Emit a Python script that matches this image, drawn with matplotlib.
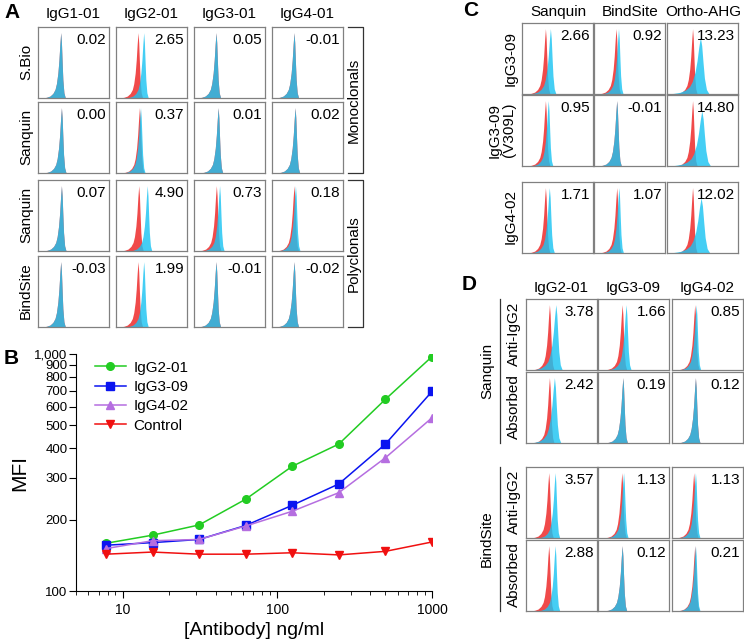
import numpy as np
import matplotlib.pyplot as plt
from matplotlib.ticker import FixedLocator, FixedFormatter, LogLocator, NullFormatter, NullLocator

plt.rcParams['font.family'] = ['Liberation Sans', 'DejaVu Sans']

W, H = 744, 642

# ---- panel B data (dose response) ----
conc = [7.8125, 15.625, 31.25, 62.5, 125, 250, 500, 1000]
mfi_igg2 = [159, 172, 190, 244, 336, 417, 644, 975]
mfi_igg3 = [156, 160, 165, 189, 230, 283, 417, 695]
mfi_igg4 = [151, 163, 165, 188, 217, 260, 365, 538]
mfi_ctrl = [143, 146, 143, 143, 145, 142, 147, 161]
y_ticks = [100, 200, 300, 400, 500, 600, 700, 800, 900, 1000]
y_tick_labels = ['100', '200', '300', '400', '500', '600', '700', '800', '900', '1,000']

# histogram peak shape (offset from mode, relative height)
peak_dx = [-0.26, -0.20, -0.15, -0.11, -0.08, -0.06, -0.04, -0.025, -0.012, 0.0, 0.01, 0.02, 0.03, 0.045, 0.065]
peak_h = [0.0, 0.01, 0.03, 0.07, 0.13, 0.22, 0.38, 0.58, 0.82, 1.0, 0.85, 0.55, 0.28, 0.08, 0.0]

# ---- panel A ----
a_cols = ['IgG1-01', 'IgG2-01', 'IgG3-01', 'IgG4-01']
a_rows = ['S.Bio', 'Sanquin', 'Sanquin', 'BindSite']
a_values = [['0.02', '2.65', '0.05', '-0.01'],
            ['0.00', '0.37', '0.01', '0.02'],
            ['0.07', '4.90', '0.73', '0.18'],
            ['-0.03', '1.99', '-0.01', '-0.02']]
a_red = [[0.32, 0.31, 0.31, 0.31],
         [0.33, 0.33, 0.34, 0.325],
         [0.33, 0.32, 0.315, 0.31],
         [0.32, 0.31, 0.31, 0.31]]
a_blue = [[0.32, 0.39, 0.31, 0.31],
          [0.33, 0.345, 0.34, 0.325],
          [0.33, 0.44, 0.36, 0.33],
          [0.32, 0.39, 0.31, 0.31]]

# ---- panel C ----
c_cols = ['Sanquin', 'BindSite', 'Ortho-AHG']
c_rows = ['IgG3-09', 'IgG3-09\n(V309L)', 'IgG4-02']
c_values = [['2.66', '0.92', '13.23'],
            ['0.95', '-0.01', '14.80'],
            ['1.71', '1.07', '12.02']]
c_red = [[0.33, 0.31, 0.36],
         [0.33, 0.32, 0.36],
         [0.33, 0.32, 0.36]]
c_blue = [[0.40, 0.345, 0.47],
          [0.37, 0.32, 0.49],
          [0.385, 0.35, 0.48]]
c_blue_w = [[1.2, 1.0, 1.9],
            [1.0, 1.0, 1.9],
            [1.1, 1.0, 1.9]]
c_blue_h = [[0.92, 0.92, 0.80],
            [0.92, 0.92, 0.78],
            [0.92, 0.92, 0.78]]

# ---- panel D ----
d_cols = ['IgG2-01', 'IgG3-09', 'IgG4-02']
d_groups = ['Sanquin', 'BindSite']
d_rows = ['Anti-IgG2', 'Absorbed', 'Anti-IgG2', 'Absorbed']
d_values = [['3.78', '1.66', '0.85'],
            ['2.42', '0.19', '0.12'],
            ['3.57', '1.13', '1.13'],
            ['2.88', '0.12', '0.21']]
d_red = [[0.33, 0.34, 0.32],
         [0.33, 0.35, 0.33],
         [0.32, 0.335, 0.305],
         [0.32, 0.34, 0.32]]
d_blue = [[0.42, 0.395, 0.34],
          [0.40, 0.35, 0.33],
          [0.41, 0.36, 0.33],
          [0.41, 0.34, 0.33]]
d_blue_w = [[1.4, 1.1, 1.0],
            [1.4, 1.0, 1.0],
            [1.0, 1.0, 1.0],
            [1.0, 1.0, 1.0]]

RED = '#f04a4a'
CYAN = '#1cc4f2'
BOX = '#808080'
FS = 11

fig = plt.figure(figsize=(W / 100, H / 100), dpi=100)
ov = fig.add_axes([0, 0, 1, 1])
ov.set_xlim(0, W)
ov.set_ylim(H, 0)
ov.axis('off')


def px_axes(x, y, w, h):
    return fig.add_axes([x / W, 1 - (y + h) / H, w / W, h / H])


def hist_box(x, y, red, blue, value, bw=1.0, bh=0.92, w=71, h=71):
    ax = px_axes(x, y, w, h)
    dx = np.array(peak_dx)
    hh = np.array(peak_h)
    ax.fill_between(red + dx, hh * 0.92, color=RED, lw=0)
    ax.fill_between(blue + dx * bw, hh * bh, color=CYAN, alpha=0.82, lw=0)
    ax.set_xlim(0, 1)
    ax.set_ylim(0, 1)
    ax.set_xticks([])
    ax.set_yticks([])
    for s in ax.spines.values():
        s.set_color(BOX)
        s.set_linewidth(0.9)
    ax.text(0.96, 0.92, value, transform=ax.transAxes, ha='right', va='top',
            fontsize=FS, zorder=5)
    return ax


# ===== panel A =====
a_x = [38, 116, 194, 272]
a_y = [27, 102, 180, 256]
for i in range(4):
    for j in range(4):
        hist_box(a_x[j], a_y[i], a_red[i][j], a_blue[i][j], a_values[i][j])
for j, name in enumerate(a_cols):
    ov.text(a_x[j] + 35, 14, name, ha='center', va='center', fontsize=FS)
for i, name in enumerate(a_rows):
    ov.text(26, a_y[i] + 35, name, ha='center', va='center', rotation=90, fontsize=FS)
ov.text(4, 12, 'A', fontsize=15, fontweight='bold', va='center')
for (top, bot, lab) in [(27, 173, 'Monoclonals'), (180, 327, 'Polyclonals')]:
    ov.plot([348, 363, 363, 348], [top, top, bot, bot], color='#333333', lw=0.9)
    ov.text(354, (top + bot) / 2, lab, rotation=90, ha='center', va='center', fontsize=FS)

# ===== panel B =====
axb = px_axes(76, 354, 356, 237)
axb.plot(conc, mfi_igg2, '-o', color='#22cc22', ms=5.5, lw=1.1, label='IgG2-01')
axb.plot(conc, mfi_igg3, '-s', color='#0a14f0', ms=5.5, lw=1.1, label='IgG3-09')
axb.plot(conc, mfi_igg4, '-^', color='#b56ee0', ms=5.5, lw=1.1, label='IgG4-02')
axb.plot(conc, mfi_ctrl, '-v', color='#f01010', ms=5.5, lw=1.1, label='Control')
axb.set_xscale('log')
axb.set_yscale('log')
axb.set_xlim(5, 1000)
axb.set_ylim(100, 1000)
axb.yaxis.set_major_locator(FixedLocator(y_ticks))
axb.yaxis.set_major_formatter(FixedFormatter(y_tick_labels))
axb.yaxis.set_minor_locator(NullLocator())
axb.xaxis.set_major_locator(FixedLocator([10, 100, 1000]))
axb.xaxis.set_major_formatter(FixedFormatter(['10', '100', '1000']))
axb.xaxis.set_minor_locator(LogLocator(base=10, subs=np.arange(2, 10)))
axb.xaxis.set_minor_formatter(NullFormatter())
axb.tick_params(axis='y', labelsize=9.5, length=5, pad=1)
axb.tick_params(axis='x', which='major', labelsize=10, length=5)
axb.tick_params(axis='x', which='minor', length=3)
for s in ['top', 'right']:
    axb.spines[s].set_visible(False)
axb.set_ylabel('MFI', fontsize=15, labelpad=4)
axb.set_xlabel('[Antibody] ng/ml', fontsize=14, labelpad=4)
axb.legend(loc='upper left', frameon=False, fontsize=11, handlelength=2.0,
           handletextpad=0.5, labelspacing=0.35, bbox_to_anchor=(0.015, 1.03))
ov.text(4, 358, 'B', fontsize=15, fontweight='bold', va='center')

# ===== panel C =====
c_x = [522, 594, 667]
c_y = [23, 95, 182]
for i in range(3):
    for j in range(3):
        hist_box(c_x[j], c_y[i], c_red[i][j], c_blue[i][j], c_values[i][j],
                 bw=c_blue_w[i][j], bh=c_blue_h[i][j])
for j, name in enumerate(c_cols):
    ov.text(c_x[j] + 36, 12, name, ha='center', va='center', fontsize=FS)
for i, name in enumerate(c_rows):
    xx = 502 if '\n' in name else 511
    ov.text(xx, c_y[i] + 35, name, ha='center', va='center', rotation=90, fontsize=FS,
            linespacing=1.0)
ov.text(463, 11, 'C', fontsize=15, fontweight='bold', va='center')

# ===== panel D =====
d_x = [526, 598, 672]
d_y = [299, 372, 467, 540]
for i in range(4):
    for j in range(3):
        hist_box(d_x[j], d_y[i], d_red[i][j], d_blue[i][j], d_values[i][j],
                 bw=d_blue_w[i][j])
for j, name in enumerate(d_cols):
    ov.text(d_x[j] + 35, 288, name, ha='center', va='center', fontsize=FS)
for i, name in enumerate(d_rows):
    ov.text(514, d_y[i] + 35, name, ha='center', va='center', rotation=90, fontsize=FS)
for g, name in enumerate(d_groups):
    top = d_y[2 * g]
    bot = d_y[2 * g + 1] + 71
    ov.plot([500, 500], [top, bot], color='#333333', lw=0.9)
    ov.text(487, (top + bot) / 2, name, ha='center', va='center', rotation=90, fontsize=FS)
ov.text(462, 284, 'D', fontsize=15, fontweight='bold', va='center')

fig.savefig('out.png', dpi=100)
